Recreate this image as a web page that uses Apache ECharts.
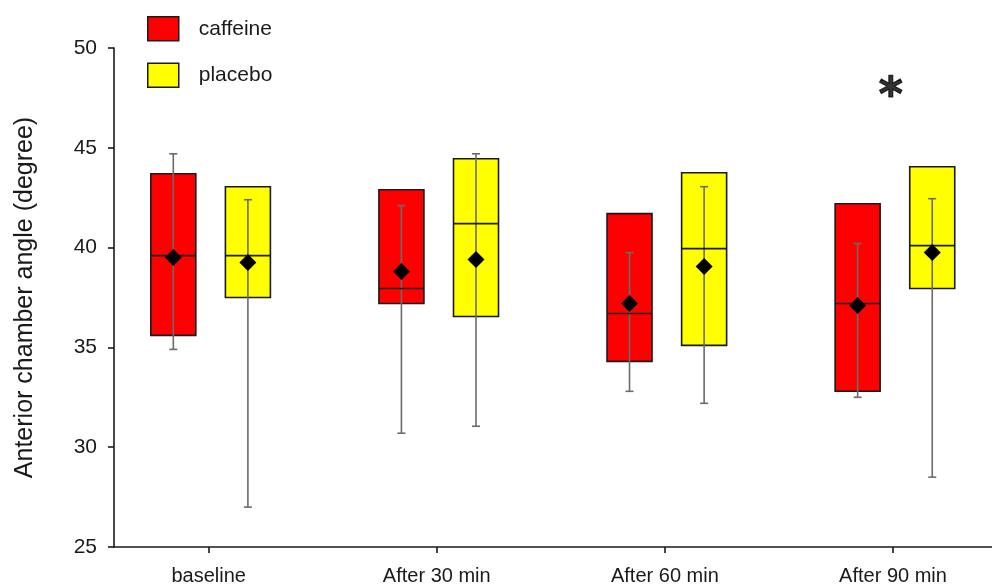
<!DOCTYPE html>
<html>
<head>
<meta charset="utf-8">
<script src="https://cdn.jsdelivr.net/npm/echarts@6/dist/echarts.min.js"></script>
<style>html,body{margin:0;padding:0;background:#fff;}#chart{width:992px;height:588px;}</style>
</head>
<body>
<div id="chart"></div>
<script>
const categories = ['baseline', 'After 30 min', 'After 60 min', 'After 90 min'];
const yTicks = [25, 30, 35, 40, 45, 50];

const caffeineLow    = [34.9, 30.7, 32.8, 32.5];
const caffeineQ1     = [35.6, 37.2, 34.3, 32.8];
const caffeineMedian = [39.6, 37.95, 36.7, 37.2];
const caffeineQ3     = [43.7, 42.9, 41.7, 42.2];
const caffeineHigh   = [44.7, 42.1, 39.75, 40.2];
const caffeineMean   = [39.5, 38.8, 37.2, 37.1];

const placeboLow    = [27.0, 31.05, 32.2, 28.5];
const placeboQ1     = [37.5, 36.55, 35.1, 37.95];
const placeboMedian = [39.6, 41.2, 39.95, 40.1];
const placeboQ3     = [43.05, 44.45, 43.75, 44.05];
const placeboHigh   = [42.4, 44.7, 43.05, 42.45];
const placeboMean   = [39.25, 39.4, 39.05, 39.75];

const sigMarks = [[2.99, 48.0]];
const sigText = '*';

function rows(low, q1, med, q3, high, mean) {
  return categories.map((c, i) => [i, low[i], q1[i], med[i], q3[i], high[i], mean[i]]);
}

function makeRender(offset, fill) {
  return function (params, api) {
    const x = api.value(0) + offset;
    const pLow = api.coord([x, api.value(1)]);
    const pQ1 = api.coord([x, api.value(2)]);
    const pMed = api.coord([x, api.value(3)]);
    const pQ3 = api.coord([x, api.value(4)]);
    const pHigh = api.coord([x, api.value(5)]);
    const pMean = api.coord([x, api.value(6)]);
    const hw = 22.5, cap = 4, d = 8.5;
    const cx = pQ1[0];
    return {
      type: 'group',
      children: [
        { type: 'rect', shape: { x: cx - hw, y: pQ3[1], width: hw * 2, height: pQ1[1] - pQ3[1] },
          style: { fill: fill, stroke: '#1a1a1a', lineWidth: 1.6 } },
        { type: 'line', shape: { x1: cx, y1: pLow[1], x2: cx, y2: pHigh[1] },
          style: { stroke: '#6b6b6b', lineWidth: 1.6 } },
        { type: 'line', shape: { x1: cx - cap, y1: pLow[1], x2: cx + cap, y2: pLow[1] },
          style: { stroke: '#6b6b6b', lineWidth: 1.6 } },
        { type: 'line', shape: { x1: cx - cap, y1: pHigh[1], x2: cx + cap, y2: pHigh[1] },
          style: { stroke: '#6b6b6b', lineWidth: 1.6 } },
        { type: 'line', shape: { x1: cx - hw, y1: pMed[1], x2: cx + hw, y2: pMed[1] },
          style: { stroke: '#1a1a1a', lineWidth: 1.6 } },
        { type: 'polygon', shape: { points: [[cx, pMean[1] - d], [cx + d, pMean[1]], [cx, pMean[1] + d], [cx - d, pMean[1]]] },
          style: { fill: '#000' } }
      ]
    };
  };
}

const font = 'Liberation Sans, Arial, sans-serif';
const chart = echarts.init(document.getElementById('chart'), null, { renderer: 'canvas' });
chart.setOption({
  animation: false,
  backgroundColor: '#fff',
  textStyle: { fontFamily: font },
  grid: { left: 114, right: 0, top: 48, bottom: 41 },
  legend: {
    data: ['caffeine', 'placebo'],
    orient: 'vertical',
    left: 142, top: 11,
    itemWidth: 31, itemHeight: 24, itemGap: 21,
    icon: 'rect',
    textStyle: { fontSize: 21, color: '#1a1a1a', fontFamily: font, padding: [0, 0, 0, 15] },
    itemStyle: { borderColor: '#1a1a1a', borderWidth: 1.5 }
  },
  xAxis: {
    type: 'value',
    min: -0.415, max: 3.434,
    splitLine: { show: false },
    axisLine: { show: true, onZero: false, lineStyle: { color: '#1a1a1a', width: 1.6 } },
    axisTick: { show: true, customValues: [0, 1, 2, 3], length: 6, lineStyle: { color: '#1a1a1a', width: 1.6 } },
    axisLabel: { customValues: [0, 1, 2, 3], formatter: v => categories[Math.round(v)], fontSize: 20, color: '#1a1a1a', margin: 19, fontFamily: font }
  },
  yAxis: {
    type: 'value',
    min: yTicks[0], max: yTicks[yTicks.length - 1], interval: 5,
    name: 'Anterior chamber angle (degree)',
    nameLocation: 'middle', nameGap: 76,
    nameTextStyle: { fontSize: 25, color: '#1a1a1a', fontFamily: font },
    splitLine: { show: false },
    axisLine: { show: true, onZero: false, lineStyle: { color: '#1a1a1a', width: 1.6 } },
    axisTick: { show: true, length: 6, lineStyle: { color: '#1a1a1a', width: 1.6 } },
    axisLabel: { fontSize: 21, color: '#1a1a1a', margin: 17, fontFamily: font }
  },
  series: [
    { name: 'caffeine', type: 'custom', itemStyle: { color: '#ff0000' },
      renderItem: makeRender(-0.155, '#ff0000'),
      encode: { x: 0, y: [1, 2, 3, 4, 5] },
      data: rows(caffeineLow, caffeineQ1, caffeineMedian, caffeineQ3, caffeineHigh, caffeineMean) },
    { name: 'placebo', type: 'custom', itemStyle: { color: '#ffff00' },
      renderItem: makeRender(0.172, '#ffff00'),
      encode: { x: 0, y: [1, 2, 3, 4, 5] },
      data: rows(placeboLow, placeboQ1, placeboMedian, placeboQ3, placeboHigh, placeboMean) },
    { name: 'sig', type: 'scatter', symbolSize: 0, silent: true,
      data: sigMarks,
      label: { show: true, position: 'inside', formatter: sigText, fontSize: 46, fontWeight: 'bold', color: '#000',
               textBorderColor: '#000', textBorderWidth: 1.2, fontFamily: 'DejaVu Sans, sans-serif', offset: [0, 10] } }
  ]
});
</script>
</body>
</html>
